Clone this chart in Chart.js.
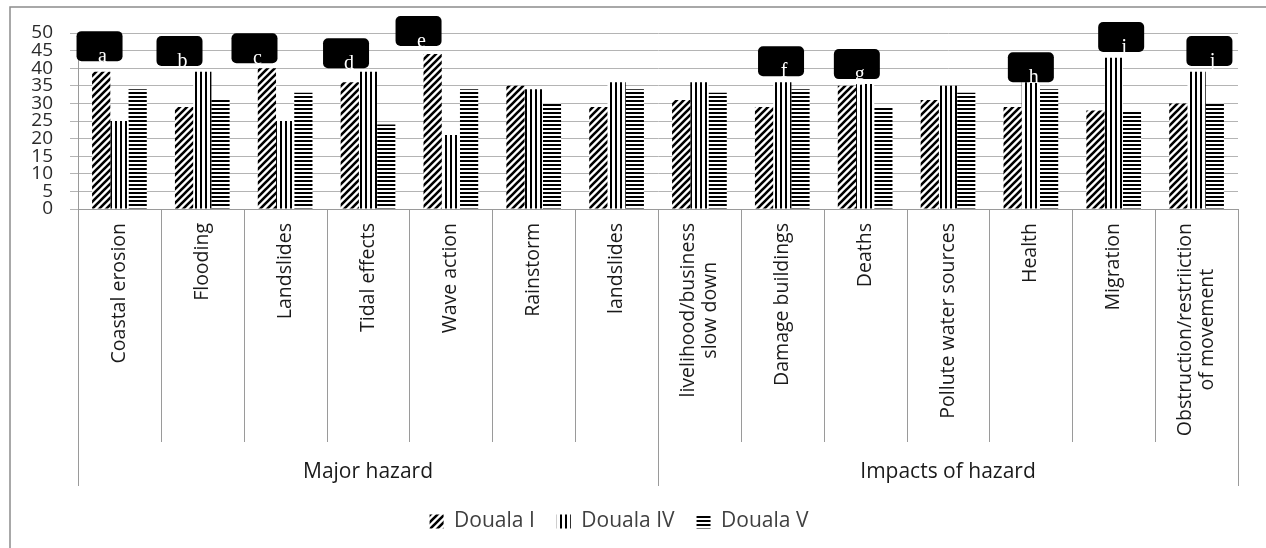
<!DOCTYPE html>
<html><head><meta charset="utf-8">
<script src="https://cdn.jsdelivr.net/npm/chart.js@4"></script>
<style>html,body{margin:0;padding:0;background:#fff}#wrap{width:1266px;height:548px;position:relative}</style>
</head><body><div id="wrap"><canvas id="c"></canvas></div>
<script>
// ---------------- data ----------------
const categories = [
  ['Coastal erosion'], ['Flooding'], ['Landslides'], ['Tidal effects'], ['Wave action'], ['Rainstorm'], ['landslides'],
  ['livelihood/business', 'slow down'], ['Damage buildings'], ['Deaths'], ['Pollute water sources'], ['Health'], ['Migration'],
  ['Obstruction/restriiction', 'of movement']
];
const groupNames = ['Major hazard', 'Impacts of hazard'];
const groupSizes = [7, 7];
const seriesNames = ['Douala I', 'Douala IV', 'Douala V'];
const doualaI  = [39, 29, 40, 36, 44, 35, 29, 31, 29, 35, 31, 29, 28, 30];
const doualaIV = [25, 39, 25, 39, 21, 34, 36, 36, 36, 35.5, 35, 36, 43, 39];
const doualaV  = [34, 31, 33, 24, 34, 30, 34, 33, 34, 29, 33, 34, 28, 30];
const yTickValues = [0, 5, 10, 15, 20, 25, 30, 35, 40, 45, 50];
// callout letters: category index, offset within category (fraction of a category), value at box bottom
const calloutLetters  = ['a', 'b', 'c', 'd', 'e', 'f', 'g', 'h', 'i', 'j'];
const calloutCategory = [0, 1, 2, 3, 4, 8, 9, 11, 12, 13];
const calloutShift    = [-0.24, -0.275, -0.37, -0.265, -0.39, -0.015, -0.1, 0, 0.09, 0.155];
const calloutValue    = [42, 40.6, 41.4, 40, 46.3, 37.7, 36.9, 36, 44.6, 40.6];

// ---------------- patterns ----------------
function makePattern(kind) {
  const c = document.createElement('canvas');
  const g = c.getContext('2d');
  if (kind === 'diag') {
    c.width = c.height = 7;
    g.fillStyle = '#fff'; g.fillRect(0, 0, 7, 7);
    g.strokeStyle = '#000'; g.lineWidth = 2.6; g.beginPath();
    g.moveTo(0, 7); g.lineTo(7, 0);
    g.moveTo(-3.5, 3.5); g.lineTo(3.5, -3.5);
    g.moveTo(3.5, 10.5); g.lineTo(10.5, 3.5);
    g.stroke();
  } else if (kind === 'vert') {
    c.width = 5; c.height = 5;
    g.fillStyle = '#fff'; g.fillRect(0, 0, 5, 5);
    g.fillStyle = '#000'; g.fillRect(0, 0, 2, 5);
  } else {
    c.width = 4; c.height = 4;
    g.fillStyle = '#fff'; g.fillRect(0, 0, 4, 4);
    g.fillStyle = '#000'; g.fillRect(0, 0, 4, 2);
  }
  return g.createPattern(c, 'repeat');
}
const patterns = [makePattern('diag'), makePattern('vert'), makePattern('horiz')];

const LABEL_FONT = '19.5px "Open Sans"';
const GRID = '#b4b4b4';
const AXIS = '#9a9a9a';

const decor = {
  id: 'decor',
  beforeDraw(chart) {
    const ctx = chart.ctx;
    ctx.save();
    ctx.fillStyle = '#fff';
    ctx.fillRect(0, 0, chart.width, chart.height);
    ctx.strokeStyle = '#8c8c8c';
    ctx.lineWidth = 1.5;
    ctx.strokeRect(10, 7, chart.width + 20, chart.height + 20);
    ctx.restore();
  },
  afterDraw(chart) {
    const ctx = chart.ctx;
    const x = chart.scales.x, y = chart.scales.y;
    const area = chart.chartArea;
    const step = x.getPixelForValue(1) - x.getPixelForValue(0);
    const bottom = area.bottom;
    const catLineEnd = 442, groupLineEnd = 486;
    ctx.save();
    // separators
    ctx.strokeStyle = AXIS; ctx.lineWidth = 1;
    const groupBounds = [0];
    groupSizes.reduce((a, s) => { groupBounds.push(a + s); return a + s; }, 0);
    for (let i = 0; i <= categories.length; i++) {
      const px = Math.round(x.getPixelForValue(i) - step / 2) + 0.5;
      const end = groupBounds.includes(i) ? groupLineEnd : catLineEnd;
      ctx.beginPath(); ctx.moveTo(px, bottom); ctx.lineTo(px, end); ctx.stroke();
    }
    // category labels (rotated, block top-aligned, lines centred)
    ctx.fillStyle = '#1a1a1a';
    ctx.font = LABEL_FONT;
    ctx.textBaseline = 'middle';
    ctx.textAlign = 'center';
    const lh = 22;
    categories.forEach((lines, i) => {
      const cx = x.getPixelForValue(i);
      const maxW = Math.max(...lines.map(l => ctx.measureText(l).width));
      ctx.save();
      ctx.translate(cx, bottom + 14);
      ctx.rotate(-Math.PI / 2);
      lines.forEach((l, k) => {
        ctx.fillText(l, -maxW / 2, (k - (lines.length - 1) / 2) * lh);
      });
      ctx.restore();
    });
    // group labels
    ctx.font = '21px "Open Sans"';
    ctx.fillStyle = '#1a1a1a';
    for (let gi = 0; gi < groupNames.length; gi++) {
      const l = x.getPixelForValue(groupBounds[gi]) - step / 2;
      const r = x.getPixelForValue(groupBounds[gi + 1]) - step / 2;
      ctx.fillText(groupNames[gi], (l + r) / 2, 472);
    }
    // callouts
    calloutLetters.forEach((letter, k) => {
      const cx = x.getPixelForValue(calloutCategory[k]) + calloutShift[k] * step;
      const by = y.getPixelForValue(calloutValue[k]);
      const w = 46, h = 30;
      ctx.fillStyle = '#000';
      ctx.beginPath();
      ctx.roundRect(cx - w / 2, by - h, w, h, 5);
      ctx.fill();
      ctx.fillStyle = '#fff';
      ctx.font = '20px "Liberation Serif"';
      ctx.textAlign = 'center';
      ctx.textBaseline = 'alphabetic';
      ctx.fillText(letter, cx + 3, by + 1);
    });
    ctx.restore();
  }
};

new Chart(document.getElementById('c'), {
  type: 'bar',
  data: {
    labels: categories.map(l => l.join(' ')),
    datasets: [doualaI, doualaIV, doualaV].map((d, i) => ({
      label: seriesNames[i],
      data: d,
      backgroundColor: patterns[i],
      borderWidth: 0,
      categoryPercentage: 0.66,
      barPercentage: 1.0
    }))
  },
  options: {
    responsive: true,
    maintainAspectRatio: false,
    animation: false,
    devicePixelRatio: 1,
    layout: { padding: { top: 33, right: 28, left: 0, bottom: 6 } },
    plugins: {
      legend: {
        position: 'bottom',
        labels: { font: { family: 'Open Sans', size: 21 }, color: '#404040', boxWidth: 14, boxHeight: 14, padding: 22 }
      },
      tooltip: { enabled: false }
    },
    scales: {
      x: {
        grid: { display: false },
        border: { display: true, color: AXIS },
        ticks: { display: false },
        afterFit(s) { s.height = 280; }
      },
      y: {
        min: 0, max: 50,
        afterBuildTicks(s) { s.ticks = yTickValues.map(v => ({ value: v })); },
        ticks: { autoSkip: false, padding: 17, color: '#2a2a2a', font: { family: 'Open Sans', size: 19 } },
        grid: { color: GRID, tickLength: 8, drawTicks: true },
        border: { display: true, color: AXIS },
        afterFit(s) { s.width = 78; }
      }
    }
  },
  plugins: [decor]
});
</script>
</body></html>
